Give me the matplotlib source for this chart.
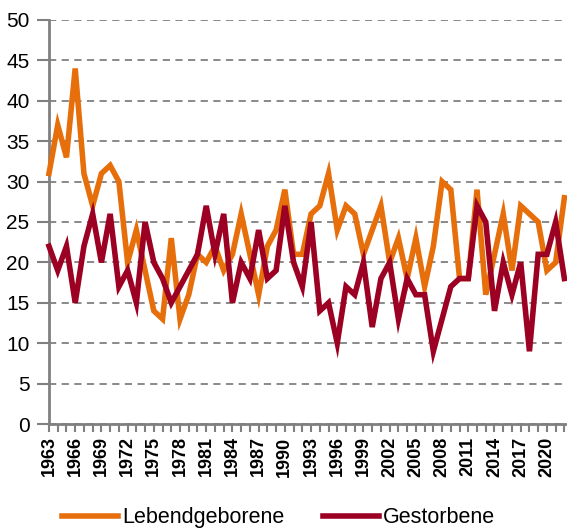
import matplotlib

matplotlib.use("Agg")
import matplotlib.pyplot as plt
from matplotlib.ticker import MultipleLocator

plt.rcParams["font.family"] = ["Liberation Sans", "DejaVu Sans"]

years = list(range(1963, 2023))
births = [31, 37, 33, 44, 31, 27, 31, 32, 30, 20,
          24, 19, 14, 13, 23, 13, 16, 21, 20, 22,
          19, 21, 26, 21, 16, 22, 24, 29, 21, 21,
          26, 27, 31, 24, 27, 26, 21, 24, 27, 20,
          23, 18, 23, 17, 22, 30, 29, 18, 18, 29,
          16, 21, 26, 19, 27, 26, 25, 19, 20, 28]
deaths = [22, 19, 22, 15, 22, 26, 20, 26, 17, 19,
          15, 25, 20, 18, 15, 17, 19, 21, 27, 21,
          26, 15, 20, 18, 24, 18, 19, 27, 20, 17,
          25, 14, 15, 10, 17, 16, 20, 12, 18, 20,
          13, 18, 16, 16, 9, 13, 17, 18, 18, 27,
          25, 14, 20, 16, 20, 9, 21, 21, 25, 18]
series_names = ["Lebendgeborene", "Gestorbene"]
series_colors = ["#E66F0C", "#9C0022"]

fig = plt.figure(figsize=(5.67, 5.30), dpi=100)
ax = fig.add_axes([0.0864, 0.2, 0.9136, 0.7623])

for vals, name, color in zip([births, deaths], series_names, series_colors):
    ax.plot(years, vals, color=color, lw=4, label=name,
            solid_joinstyle="miter", clip_on=False, zorder=3)

ax.set_ylim(0, 50)
ax.set_xlim(1963, 2022.3)
ax.yaxis.set_major_locator(MultipleLocator(5))
ax.set_xticks(range(1963, 2023, 3))
ax.xaxis.set_minor_locator(MultipleLocator(1))
ax.tick_params(axis="y", labelsize=15, length=9, width=1.5, color="#808080", pad=5)
ax.tick_params(axis="x", which="both", length=6, width=1.5, color="#808080")
ax.tick_params(axis="x", labelsize=13, pad=3)
for lab in ax.get_xticklabels():
    lab.set_rotation(90)
    lab.set_fontweight("bold")

ax.grid(axis="y", color="#808080", ls=(0, (4, 3)), lw=1.3)
ax.set_axisbelow(True)
for side in ("top", "right"):
    ax.spines[side].set_visible(False)
for side in ("left", "bottom"):
    ax.spines[side].set_color("#808080")
    ax.spines[side].set_linewidth(2)

fig.legend(loc="center", bbox_to_anchor=(0.491, 0.023), ncol=2, frameon=False,
           fontsize=15.5, handlelength=2.6, handletextpad=0.2, columnspacing=1.8,
           borderpad=0)

fig.savefig("out.png", dpi=100)
